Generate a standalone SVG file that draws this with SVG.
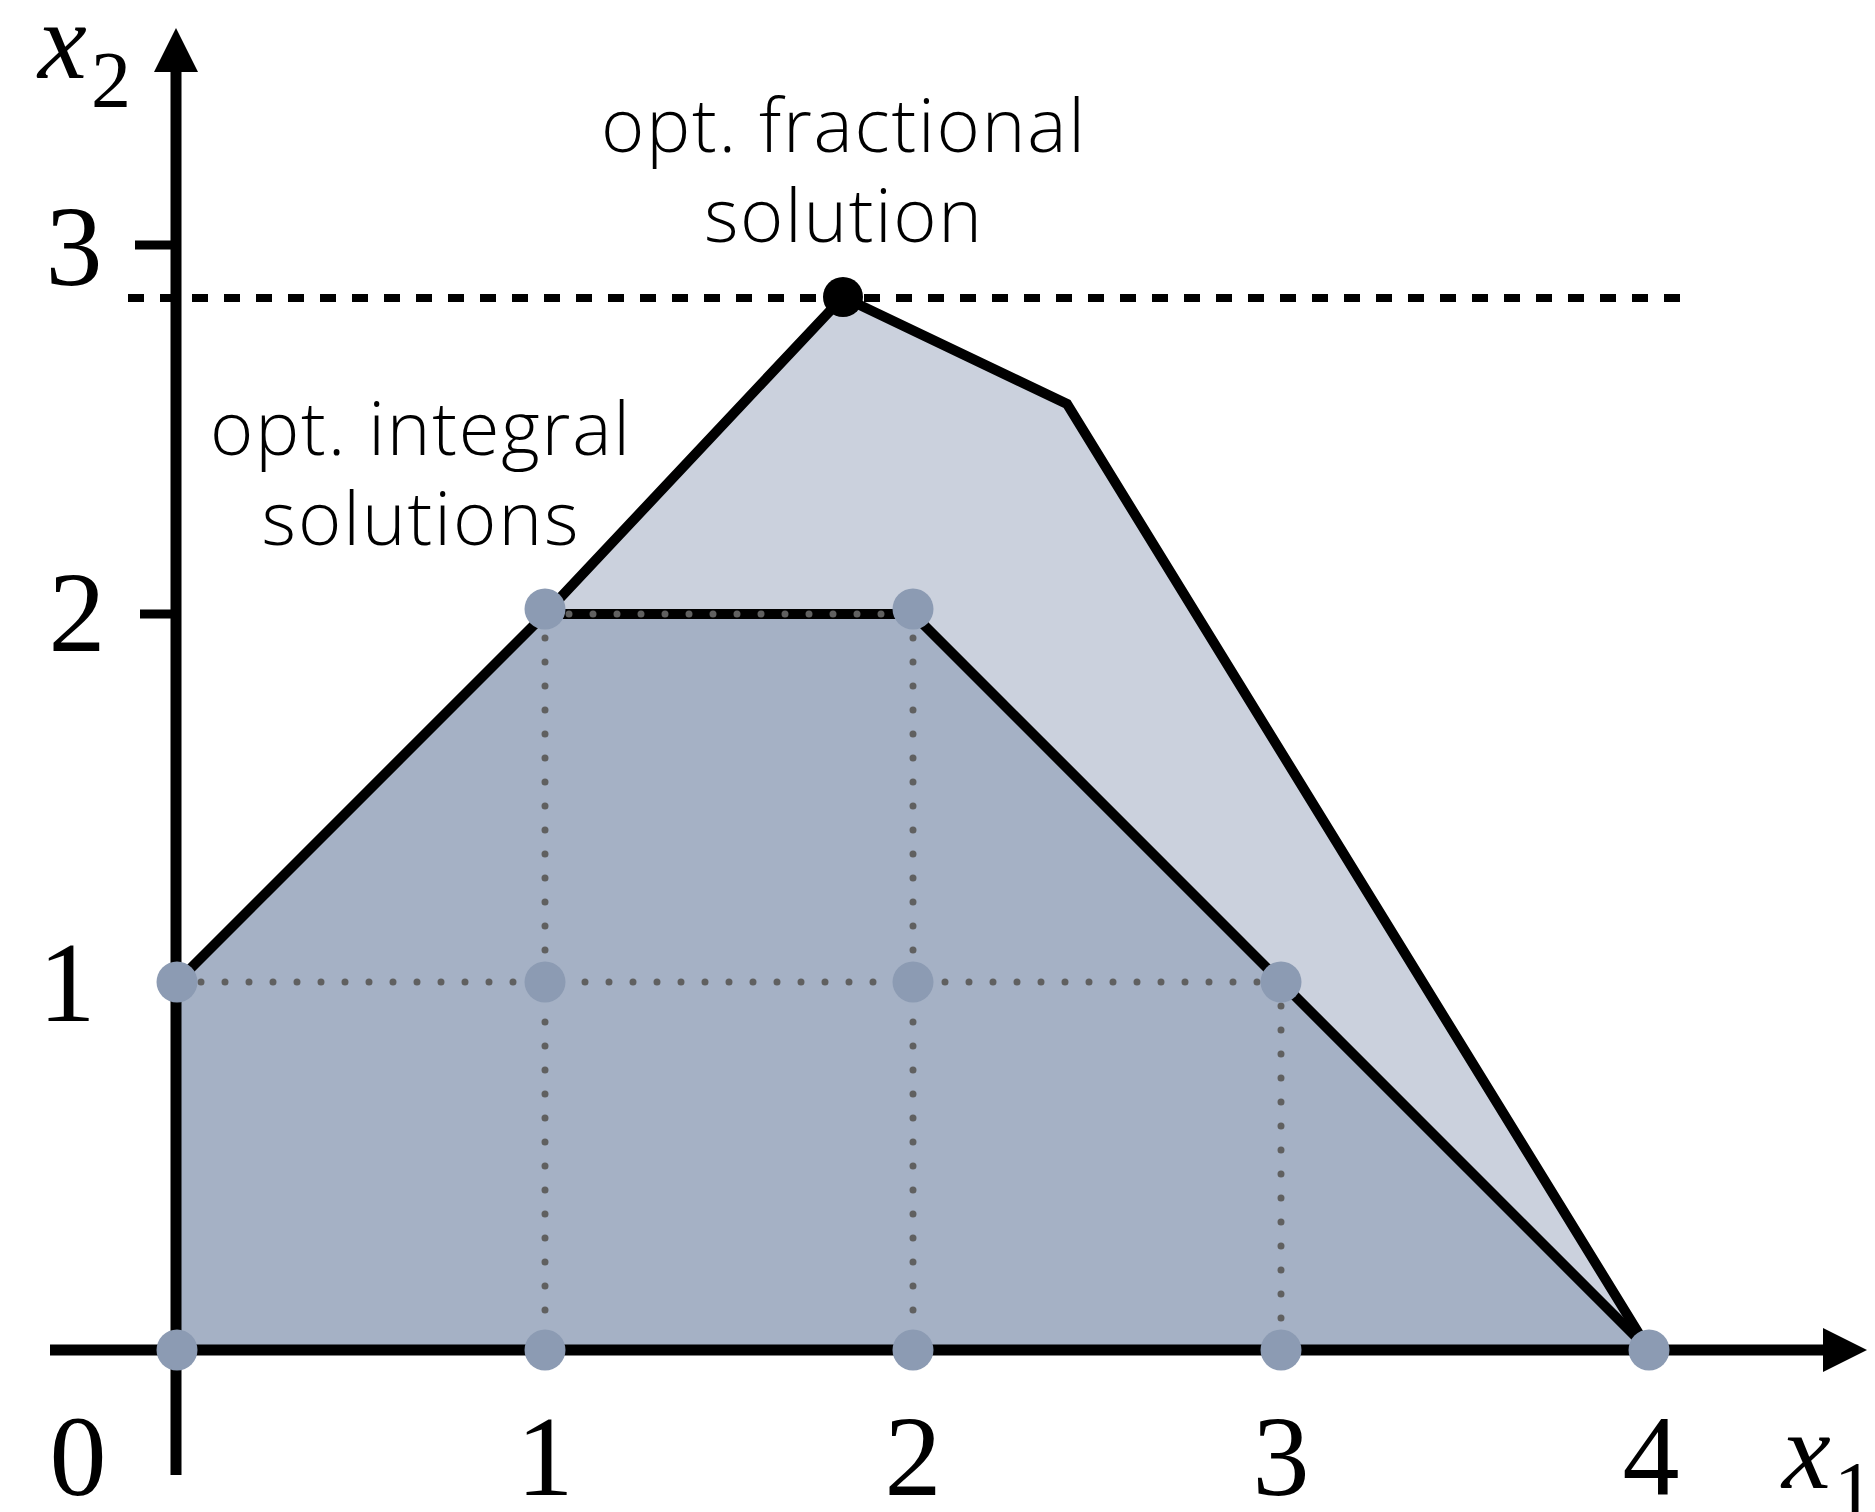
<svg xmlns="http://www.w3.org/2000/svg" width="1875" height="1512" viewBox="0 0 1875 1512">
<style>
.edge{fill:none;stroke:#000;stroke-width:10;stroke-linejoin:miter}
.grid{fill:none;stroke:#606060;stroke-width:7;stroke-linecap:round;stroke-dasharray:0 24}
.pt{fill:#8C9BB3}
.num{font-family:"Liberation Serif","Times New Roman",serif;font-size:114px;fill:#000}
.var{font-family:"Liberation Serif","Times New Roman",serif;font-style:italic;font-size:110px;fill:#000}
.sub{font-family:"Liberation Serif","Times New Roman",serif;font-size:80px;fill:#000}
.lbl{font-family:"Open Sans","DejaVu Sans",sans-serif;font-weight:300;font-size:74px;fill:#000;text-anchor:middle}
</style>
<rect width="1875" height="1512" fill="#fff"/>
<g id="lp-region">
<polygon points="177,1350 177,982 545,614 843,297 1067,404 1649,1350" fill="#CBD1DD"/>
</g>
<g id="integer-hull">
<polygon points="177,1350 177,982 545,614 913,614 1281,982 1649,1350" fill="#A5B1C5"/>
</g>
<g id="connectors">
<polyline class="edge" points="177,982 545,614 843,297 1067,404 1649,1350"/>
<polyline class="edge" points="545,614 913,614 1281,982 1649,1350"/>
<line x1="128" y1="298" x2="1680" y2="298" stroke="#000" stroke-width="8" stroke-dasharray="16 16"/>
<line class="grid" x1="177" y1="982" x2="1281" y2="982"/>
<line class="grid" x1="545" y1="614" x2="913" y2="614"/>
<line class="grid" x1="545" y1="614" x2="545" y2="1350"/>
<line class="grid" x1="913" y1="614" x2="913" y2="1350"/>
<line class="grid" x1="1281" y1="982" x2="1281" y2="1350"/>
</g>
<g id="axes">
<line x1="176" y1="1475" x2="176" y2="70" stroke="#000" stroke-width="11"/>
<polygon points="176,28 154,72 198,72" fill="#000"/>
<line x1="50" y1="1350" x2="1825" y2="1350" stroke="#000" stroke-width="11"/>
<polygon points="1867,1350 1823,1328 1823,1372" fill="#000"/>
<line x1="135" y1="245" x2="176" y2="245" stroke="#000" stroke-width="9"/>
<line x1="140" y1="614" x2="176" y2="614" stroke="#000" stroke-width="9"/>
</g>
<g id="points">
<circle class="pt" cx="177" cy="1350" r="20.5"/>
<circle class="pt" cx="545" cy="1350" r="20.5"/>
<circle class="pt" cx="913" cy="1350" r="20.5"/>
<circle class="pt" cx="1281" cy="1350" r="20.5"/>
<circle class="pt" cx="1649" cy="1350" r="20.5"/>
<circle class="pt" cx="177" cy="982" r="20.5"/>
<circle class="pt" cx="545" cy="982" r="20.5"/>
<circle class="pt" cx="913" cy="982" r="20.5"/>
<circle class="pt" cx="1281" cy="982" r="20.5"/>
<circle class="pt" cx="545" cy="609" r="20.5"/>
<circle class="pt" cx="913" cy="609" r="20.5"/>
</g>
<g id="fractional-point">
<circle cx="843" cy="297" r="20" fill="#000"/>
</g>
<g id="tick-labels">
<text class="num" x="78" y="1495" text-anchor="middle">0</text>
<text class="num" x="545" y="1495" text-anchor="middle">1</text>
<text class="num" x="913" y="1495" text-anchor="middle">2</text>
<text class="num" x="1281" y="1495" text-anchor="middle">3</text>
<text class="num" x="1651" y="1495" text-anchor="middle">4</text>
<text class="num" x="67" y="1021" text-anchor="middle">1</text>
<text class="num" x="77" y="651" text-anchor="middle">2</text>
<text class="num" x="74" y="285" text-anchor="middle">3</text>
</g>
<g id="axis-labels">
<text class="var" x="38" y="78">x</text><text class="sub" x="91" y="107">2</text>
<text class="var" x="1782" y="1488">x</text><text class="sub" x="1834" y="1517">1</text>
</g>
<g id="label-fractional">
<text class="lbl" x="843" y="152" textLength="484" lengthAdjust="spacing">opt. fractional</text>
<text class="lbl" x="843" y="242" textLength="278" lengthAdjust="spacing">solution</text>
</g>
<g id="label-integral">
<text class="lbl" x="420" y="455" textLength="420" lengthAdjust="spacing">opt. integral</text>
<text class="lbl" x="420" y="545" textLength="317" lengthAdjust="spacing">solutions</text>
</g>
</svg>
